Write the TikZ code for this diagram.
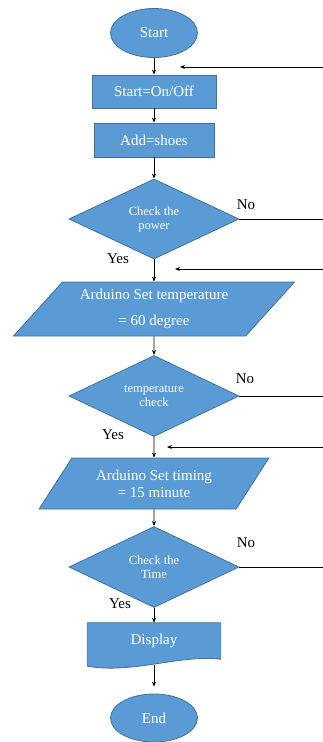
\documentclass[tikz,border=0pt]{standalone}
\usepackage{fontspec}
\setmainfont{Liberation Serif}
\definecolor{flowblue}{RGB}{91, 155, 213}
\definecolor{flowedge}{RGB}{65, 113, 156}
\usetikzlibrary{shapes.geometric, arrows.meta, calc, backgrounds}

\tikzset{
  base/.style={draw=flowedge, fill=flowblue, text=white, line width=0.8pt, inner sep=0pt, align=center},
  term/.style={base, ellipse, minimum width=87pt, minimum height=49pt, font=\fontsize{15}{17}\selectfont},
  proc/.style={base, rectangle, font=\fontsize{15}{17}\selectfont},
  decide/.style={base, diamond, minimum width=170pt, minimum height=80pt, font=\fontsize{12.5}{14}\selectfont},
  io/.style={base, trapezium, trapezium stretches=true, font=\fontsize{15}{17}\selectfont},
  flow/.style={-{Stealth[length=5pt, width=4pt]}, line width=0.8pt},
  plain/.style={line width=0.8pt},
  answer/.style={font=\fontsize{15}{17}\selectfont},
}

\begin{document}
\begin{tikzpicture}[x=1pt, y=-1pt]
  \useasboundingbox (0,0) rectangle (323,742);

  % Start
  \node[term] (start) at (154,33) {Start};
  \node[proc, minimum width=124pt, minimum height=33pt] (onoff) at (154,91.5) {Start=On/Off};
  \node[proc, minimum width=120pt, minimum height=34pt] (shoes) at (154,140) {Add=shoes};

  % power
  \node[decide] (power) at (154,219) {Check the\\power};
  \node[io, minimum width=282pt, minimum height=54pt, trapezium left angle=45, trapezium right angle=135] (settemp) at (154,309) {Arduino Set temperature\\[9pt]= 60 degree};

  % temperature
  \node[decide, minimum height=81pt] (tempchk) at (154,396) {temperature\\check};
  \node[io, minimum width=230pt, minimum height=51pt, trapezium left angle=50, trapezium right angle=130] (settime) at (154,483.5) {Arduino Set timing\\= 15 minute};

  % time
  \node[decide, minimum height=81pt] (timechk) at (154,567) {Check the\\Time};
  \node[text=white, font=\fontsize{15}{17}\selectfont, minimum width=133pt, minimum height=36pt, inner sep=0pt] (display) at (154,641) {Display};
  \begin{scope}[on background layer]
    \draw[draw=flowedge, fill=flowblue, line width=0.8pt] (display.north west) -- (display.north east) -- (display.south east)
      .. controls +(-40,-5) and +(45,8) .. ($(display.south west)+(0,7)$) -- cycle;
  \end{scope}
  \node[term, minimum height=48pt] (end) at (154,718) {End};

  % main flow
  \draw[flow] (start) -- (onoff);
  \draw[flow] (onoff) -- (shoes);
  \draw[flow] (shoes) -- (power);
  \draw[flow] (power) -- (settemp);
  \draw[flow] (settemp) -- (tempchk);
  \draw[flow] (tempchk) -- (settime);
  \draw[flow] (settime) -- (timechk);
  \draw[flow] (timechk) -- (display);
  \draw[flow, shorten <=6pt, shorten >=7pt] (display.south) -- (end.north);

  % No branches
  \coordinate (out1) at (323,219);
  \coordinate (out2) at (323,396);
  \coordinate (out3) at (323,567);
  \draw[plain] (power.east) -- (out1);
  \draw[plain] (tempchk.east) -- (out2);
  \draw[plain] (timechk.east) -- (out3);

  % returns
  \coordinate (back1) at (323,67);
  \coordinate (in1) at (180,67);
  \coordinate (back2) at (323,269);
  \coordinate (in2) at (175,269);
  \coordinate (back3) at (323,447);
  \coordinate (in3) at (167,447);
  \draw[flow] (back1) -- (in1);
  \draw[flow] (back2) -- (in2);
  \draw[flow] (back3) -- (in3);

  % labels
  \node[answer] (no1) at (246,205) {No};
  \node[answer] (yes1) at (118,259) {Yes};
  \node[answer] (no2) at (245,379) {No};
  \node[answer] (yes2) at (113,435) {Yes};
  \node[answer] (no3) at (246,543) {No};
  \node[answer] (yes3) at (120,604) {Yes};
\end{tikzpicture}
\end{document}
